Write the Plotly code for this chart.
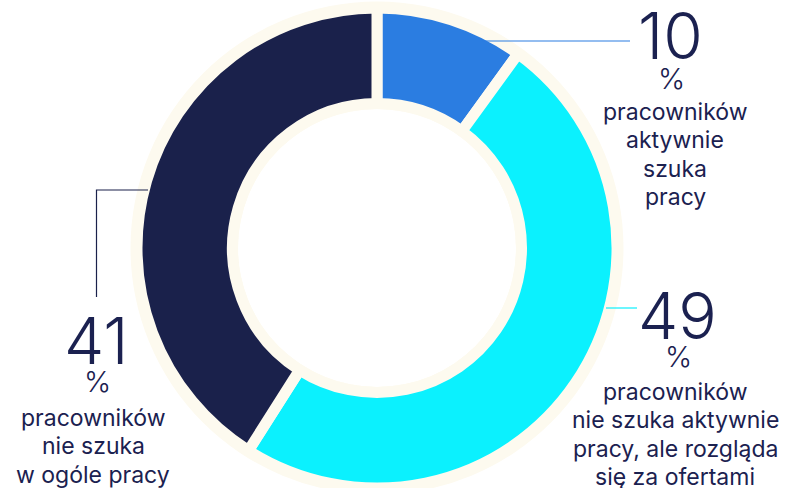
import plotly.graph_objects as go

# ---- data ----
categories = [
    "pracowników<br>aktywnie<br>szuka<br>pracy",
    "pracowników<br>nie szuka aktywnie<br>pracy, ale rozgląda<br>się za ofertami",
    "pracowników<br>nie szuka<br>w ogóle pracy",
]
values = [10, 49, 41]
colors = ["#2b7de1", "#0bf1fe", "#1a214b"]

W, H = 792, 488
NAVY_TXT = "#1b2150"
CREAM = "#fdfaef"

# geometry (pixels)
cx, cy, R = 377, 248, 240
hole = 0.602
gap = 11


def px(x):
    return x / W


def py(y):
    return 1 - y / H


fig = go.Figure()
fig.add_trace(go.Pie(
    values=values,
    labels=[c.split("<br>")[0] + str(i) for i, c in enumerate(categories)],
    marker=dict(colors=colors, line=dict(color=CREAM, width=gap)),
    hole=hole,
    sort=False,
    direction="clockwise",
    rotation=0,
    textinfo="none",
    hoverinfo="skip",
    showlegend=False,
    domain=dict(x=[px(cx - R), px(cx + R)], y=[py(cy + R), py(cy - R)]),
))

# cream ring behind the donut
r_out = R - gap / 2 + 12
r_in = R * hole + gap / 2 - 11
shapes = [
    dict(type="circle", xref="paper", yref="paper", layer="below",
         x0=px(cx - r_out), x1=px(cx + r_out), y0=py(cy + r_out), y1=py(cy - r_out),
         fillcolor=CREAM, line=dict(width=0)),
    dict(type="circle", xref="paper", yref="paper", layer="below",
         x0=px(cx - r_in), x1=px(cx + r_in), y0=py(cy + r_in), y1=py(cy - r_in),
         fillcolor="white", line=dict(width=0)),
]

# leader lines
shapes += [
    dict(type="line", xref="paper", yref="paper", x0=px(482), x1=px(630), y0=py(41), y1=py(41),
         line=dict(color=colors[0], width=1.2)),
    dict(type="line", xref="paper", yref="paper", x0=px(606), x1=px(637), y0=py(308), y1=py(308),
         line=dict(color=colors[1], width=1.2)),
    dict(type="path", xref="paper", yref="paper",
         path=f"M {px(148)} {py(190)} L {px(96.5)} {py(190)} L {px(96.5)} {py(297)}",
         line=dict(color=colors[2], width=1.2)),
]

# label blocks: (number center x, number center y, % y, text center x, text first-line y)
blocks = [
    (670, 35, 78, 675, 112),
    (677, 315, 356, 675, 392),
    (96, 340, 381, 93, 418),
]

annotations = []
for (bx, ny, pcy, tx, ty), v, txt in zip(blocks, values, categories):
    annotations.append(dict(x=px(bx), y=py(ny), xref="paper", yref="paper", text=str(v),
                            showarrow=False, xanchor="center", yanchor="middle", borderpad=0,
                            font=dict(family="Inter", size=64, color=NAVY_TXT, weight=300)))
    annotations.append(dict(x=px(bx + 1), y=py(pcy), xref="paper", yref="paper", text="%",
                            showarrow=False, xanchor="center", yanchor="middle", borderpad=0,
                            font=dict(family="Inter", size=29, color=NAVY_TXT, weight=300)))
    lines = txt.split("<br>")
    for i, line in enumerate(lines):
        annotations.append(dict(x=px(tx), y=py(ty + i * 28.3),
                                xref="paper", yref="paper", text=line, borderpad=0,
                                showarrow=False, xanchor="center", yanchor="middle",
                                font=dict(family="Inter", size=23, color=NAVY_TXT, weight=400)))

fig.update_layout(
    width=W, height=H,
    margin=dict(l=0, r=0, t=0, b=0),
    paper_bgcolor="white",
    plot_bgcolor="white",
    shapes=shapes,
    annotations=annotations,
)

fig.write_html("out.html")
